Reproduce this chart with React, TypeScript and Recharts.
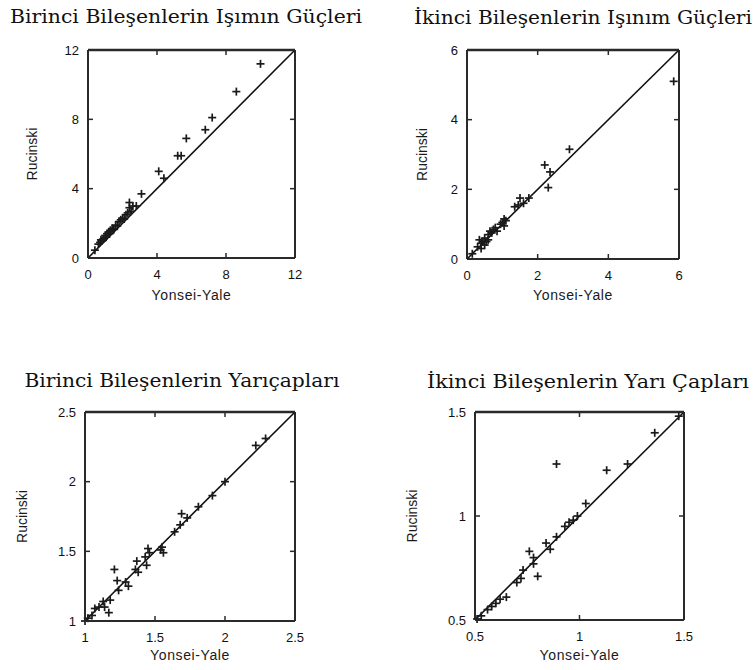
import React from 'react';
import { Scatter, ScatterChart, XAxis, YAxis } from 'recharts';

// tick values per panel
const ticksIsimA = [0, 4, 8, 12];
const ticksIsimB = [0, 2, 4, 6];
const ticksYaricapA = [1, 1.5, 2, 2.5];
const ticksYaricapB = [0.5, 1, 1.5];

// Birinci bileşenler, ışınım güçleri
const isimA_yale = [0.4, 0.6, 0.7, 0.75, 0.8, 0.9, 1.0, 1.05, 1.1, 1.2, 1.25, 1.3, 1.4, 1.5, 1.6, 1.7, 1.8, 1.9, 2.0, 2.1, 2.2, 2.3, 2.4, 2.5, 2.4, 2.6, 2.8, 3.1, 4.1, 4.4, 5.2, 5.4, 5.7, 6.8, 7.2, 8.6, 10.0];
const isimA_rucinski = [0.45, 0.8, 0.9, 1.05, 1.0, 1.1, 1.3, 1.2, 1.4, 1.5, 1.4, 1.6, 1.7, 1.65, 1.9, 1.85, 2.1, 2.2, 2.3, 2.25, 2.5, 2.6, 2.9, 2.7, 3.2, 3.0, 3.0, 3.7, 5.0, 4.6, 5.9, 5.9, 6.9, 7.4, 8.1, 9.6, 11.2];

// İkinci bileşenler, ışınım güçleri
const isimB_yale = [0.15, 0.3, 0.35, 0.4, 0.4, 0.45, 0.5, 0.5, 0.55, 0.6, 0.6, 0.65, 0.7, 0.75, 0.8, 0.85, 0.95, 1.0, 1.05, 1.1, 1.05, 1.35, 1.45, 1.5, 1.6, 1.75, 2.2, 2.35, 2.3, 2.9, 5.85];
const isimB_rucinski = [0.15, 0.35, 0.55, 0.3, 0.45, 0.5, 0.4, 0.6, 0.5, 0.7, 0.55, 0.8, 0.75, 0.85, 0.9, 0.8, 1.0, 1.05, 0.95, 1.1, 1.15, 1.5, 1.55, 1.75, 1.6, 1.75, 2.7, 2.5, 2.05, 3.15, 5.1];

// Birinci bileşenler, yarıçaplar
const yaricapA_yale = [1.0, 1.02, 1.05, 1.07, 1.1, 1.13, 1.14, 1.17, 1.18, 1.21, 1.23, 1.24, 1.29, 1.31, 1.36, 1.37, 1.38, 1.43, 1.44, 1.45, 1.46, 1.54, 1.55, 1.56, 1.64, 1.68, 1.69, 1.73, 1.81, 1.91, 2.0, 2.22, 2.29];
const yaricapA_rucinski = [1.0, 1.02, 1.04, 1.09, 1.1, 1.14, 1.1, 1.06, 1.15, 1.37, 1.29, 1.22, 1.28, 1.25, 1.37, 1.43, 1.35, 1.46, 1.4, 1.52, 1.49, 1.51, 1.53, 1.49, 1.64, 1.69, 1.77, 1.74, 1.82, 1.9, 2.0, 2.26, 2.31];

// İkinci bileşenler, yarı çaplar
const yaricapB_yale = [0.51, 0.53, 0.56, 0.58, 0.6, 0.62, 0.65, 0.7, 0.72, 0.73, 0.76, 0.78, 0.78, 0.8, 0.84, 0.86, 0.89, 0.89, 0.93, 0.95, 0.97, 0.99, 1.03, 1.13, 1.23, 1.36, 1.475];
const yaricapB_rucinski = [0.505, 0.52, 0.55, 0.565, 0.58, 0.6, 0.61, 0.68, 0.7, 0.74, 0.83, 0.77, 0.8, 0.71, 0.87, 0.84, 0.9, 1.25, 0.95, 0.97, 0.98, 1.0, 1.06, 1.22, 1.25, 1.4, 1.48];

const INK = '#2a2a2a';
const tickFont = { fontFamily: '"Liberation Sans", Arial, sans-serif', fontSize: 13, fill: '#111' };

const BottomTick = (props: any) => {
  const { x, y, payload } = props;
  return (
    <g>
      <line x1={x} y1={y} x2={x} y2={y - 5} stroke={INK} strokeWidth={1.5} />
      <text x={x} y={y + 16} dy="0.35em" textAnchor="middle" {...tickFont}>
        {payload.value}
      </text>
    </g>
  );
};

const LeftTick = (props: any) => {
  const { x, y, payload } = props;
  return (
    <g>
      <line x1={x} y1={y} x2={x + 5} y2={y} stroke={INK} strokeWidth={1.5} />
      <text x={x - 9} y={y} dy="0.35em" textAnchor="end" {...tickFont}>
        {payload.value}
      </text>
    </g>
  );
};

const TopTick = (props: any) => {
  const { x, y } = props;
  return <line x1={x} y1={y} x2={x} y2={y + 5} stroke={INK} strokeWidth={1.5} />;
};

const RightTick = (props: any) => {
  const { x, y } = props;
  return <line x1={x} y1={y} x2={x - 5} y2={y} stroke={INK} strokeWidth={1.5} />;
};

const PlusMark = (props: any) => {
  const { cx, cy } = props;
  return (
    <g stroke="#1a1a1a" strokeWidth={1.7}>
      <line x1={cx - 4} y1={cy} x2={cx + 4} y2={cy} />
      <line x1={cx} y1={cy - 4} x2={cx} y2={cy + 4} />
    </g>
  );
};

const NoMark = () => <g />;

type PanelProps = {
  left: number;
  top: number;
  xs: number[];
  ys: number[];
  ticks: number[];
  margin: { top: number; right: number; bottom: number; left: number };
  yWidth: number;
  xHeight: number;
  yLabelOffset: number;
  xLabelOffset: number;
};

const Panel: React.FC<PanelProps> = ({ left, top, xs, ys, ticks, margin, yWidth, xHeight, yLabelOffset, xLabelOffset }) => {
  const points = xs.map((x, i) => ({ x, y: ys[i] }));
  const lo = ticks[0];
  const hi = ticks[ticks.length - 1];
  const diagonal = [
    { x: lo, y: lo },
    { x: hi, y: hi },
  ];
  const labelFont = { fontFamily: '"Liberation Sans", Arial, sans-serif', fontSize: 14, fill: '#1a1a1a' };
  return (
    <div style={{ position: 'absolute', left, top }}>
      <ScatterChart width={377} height={310} margin={{ ...margin, top: margin.top - 1, right: margin.right - 1 }}>
        <XAxis
          xAxisId="b"
          type="number"
          dataKey="x"
          domain={[lo, hi]}
          ticks={ticks}
          orientation="bottom"
          height={xHeight}
          tickLine={false}
          tickSize={0}
          tickMargin={0}
          axisLine={{ stroke: INK, strokeWidth: 2 }}
          tick={<BottomTick />}
          label={{
            value: 'Yonsei-Yale',
            position: 'insideBottom',
            offset: xLabelOffset,
            style: { ...labelFont, letterSpacing: 0.6 },
          }}
        />
        <XAxis
          xAxisId="t"
          type="number"
          dataKey="x"
          domain={[lo, hi]}
          ticks={ticks}
          orientation="top"
          height={1}
          tickLine={false}
          tickSize={0}
          tickMargin={0}
          axisLine={{ stroke: INK, strokeWidth: 2.5 }}
          tick={<TopTick />}
        />
        <YAxis
          yAxisId="l"
          type="number"
          dataKey="y"
          domain={[lo, hi]}
          ticks={ticks}
          orientation="left"
          width={yWidth}
          tickLine={false}
          tickSize={0}
          tickMargin={0}
          axisLine={{ stroke: INK, strokeWidth: 2 }}
          tick={<LeftTick />}
          label={{
            value: 'Rucinski',
            angle: -90,
            position: 'insideLeft',
            offset: yLabelOffset,
            style: { ...labelFont, textAnchor: 'middle' },
          }}
        />
        <YAxis
          yAxisId="r"
          type="number"
          dataKey="y"
          domain={[lo, hi]}
          ticks={ticks}
          orientation="right"
          width={1}
          tickLine={false}
          tickSize={0}
          tickMargin={0}
          axisLine={{ stroke: INK, strokeWidth: 2 }}
          tick={<RightTick />}
        />
        <Scatter
          data={diagonal}
          xAxisId="t"
          yAxisId="r"
          line={{ stroke: '#111', strokeWidth: 1.6 }}
          shape={<NoMark />}
          isAnimationActive={false}
        />
        <Scatter data={points} xAxisId="b" yAxisId="l" shape={<PlusMark />} isAnimationActive={false} />
      </ScatterChart>
    </div>
  );
};

const titleStyle = { fontFamily: '"DejaVu Serif", "Liberation Serif", serif', fontSize: 18, fill: '#111' };

export default function App() {
  return (
    <div style={{ position: 'absolute', left: 0, top: 0, width: 754, height: 670, background: '#fff' }}>
      <svg width={754} height={670} style={{ position: 'absolute', left: 0, top: 0 }}>
        <text x={186} y={23} textAnchor="middle" textLength={352} lengthAdjust="spacingAndGlyphs" {...titleStyle}>
          Birinci Bileşenlerin Işımın Güçleri
        </text>
        <text x={583} y={24} textAnchor="middle" textLength={338} lengthAdjust="spacingAndGlyphs" {...titleStyle}>
          İkinci Bileşenlerin Işınım Güçleri
        </text>
        <text x={182} y={387} textAnchor="middle" textLength={315} lengthAdjust="spacingAndGlyphs" {...titleStyle}>
          Birinci Bileşenlerin Yarıçapları
        </text>
        <text x={588} y={388} textAnchor="middle" textLength={322} lengthAdjust="spacingAndGlyphs" {...titleStyle}>
          İkinci Bileşenlerin Yarı Çapları
        </text>
      </svg>
      <Panel
        left={0}
        top={0}
        xs={isimA_yale}
        ys={isimA_rucinski}
        ticks={ticksIsimA}
        margin={{ top: 50, right: 82, bottom: 7, left: 20 }}
        yWidth={68}
        xHeight={45}
        yLabelOffset={12}
        xLabelOffset={3}
      />
      <Panel
        left={377}
        top={0}
        xs={isimB_yale}
        ys={isimB_rucinski}
        ticks={ticksIsimB}
        margin={{ top: 50, right: 75, bottom: 6, left: 33 }}
        yWidth={57}
        xHeight={45}
        yLabelOffset={12}
        xLabelOffset={4}
      />
      <Panel
        left={0}
        top={360}
        xs={yaricapA_yale}
        ys={yaricapA_rucinski}
        ticks={ticksYaricapA}
        margin={{ top: 52, right: 82, bottom: 4, left: 10 }}
        yWidth={75}
        xHeight={45}
        yLabelOffset={12}
        xLabelOffset={6}
      />
      <Panel
        left={377}
        top={360}
        xs={yaricapB_yale}
        ys={yaricapB_rucinski}
        ticks={ticksYaricapB}
        margin={{ top: 52, right: 70, bottom: 5, left: 23 }}
        yWidth={75}
        xHeight={45}
        yLabelOffset={12}
        xLabelOffset={5}
      />
    </div>
  );
}
